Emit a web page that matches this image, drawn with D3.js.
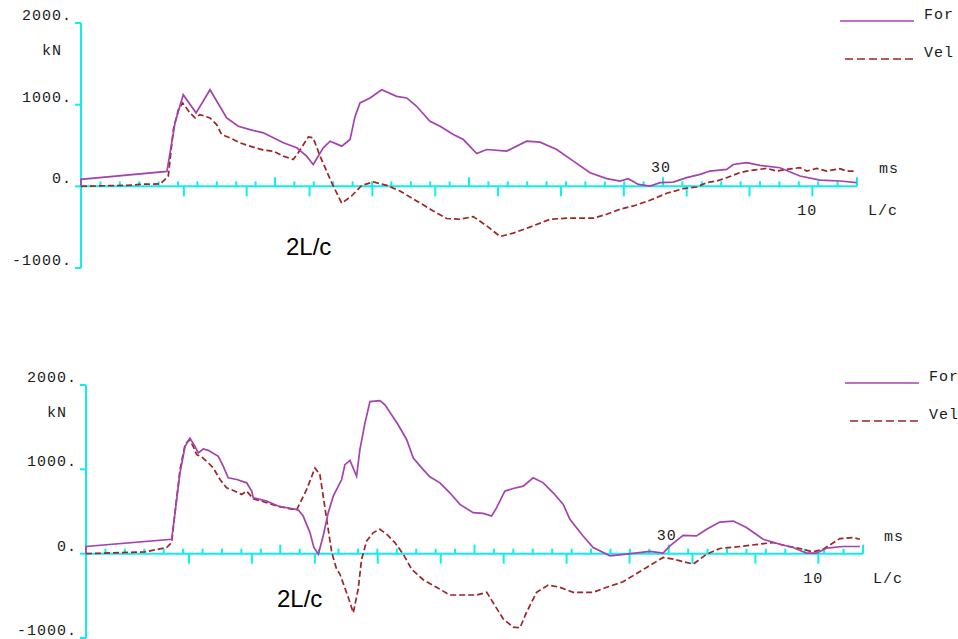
<!DOCTYPE html>
<html>
<head>
<meta charset="utf-8">
<script src="https://cdn.jsdelivr.net/npm/d3@7"></script>
<style>
  html, body { margin: 0; padding: 0; background: #fff; }
  svg { display: block; }
  .lab { font-family: "Liberation Mono", "DejaVu Sans Mono", monospace; font-size: 15px; letter-spacing: 1px; fill: #1a1a1a; }
  .ann { font-family: "Liberation Sans", Arial, sans-serif; font-size: 24px; fill: #000; }
</style>
</head>
<body>
<svg id="chart" width="958" height="639"></svg>
<script>
// ---------- DATA (time in ms, value in kN) ----------
const yTicks = [2000, 1000, 0, -1000];
const yTickLabels = ["2000.", "1000.", "0.", "-1000."];
const msDomain = [0, 40];
const lcStartMs = 5.3;      // impact time (0 L/c)
const lcEndMs = 37.7;       // 10 L/c
const lcTicks = [0, 1, 2, 3, 4, 5, 6, 7, 8, 9, 10];
const legendNames = ["For", "Vel"];

const forceTop = [
  [0,0],[0,85],[4.43,183],[4.85,781],[5.27,1122],[5.93,900],[6.65,1183],[7.51,838],[8.11,735],
  [8.71,695],[9.40,655],[10.43,533],[11.12,472],[11.63,370],[11.97,268],[12.49,472],[12.84,553],
  [13.44,492],[13.87,573],[14.12,850],[14.38,1021],[14.90,1082],[15.50,1183],[16.27,1102],
  [16.79,1082],[17.30,980],[17.99,797],[18.51,735],[19.19,634],[19.71,573],[20.40,402],
  [20.91,451],[21.94,431],[22.97,553],[23.66,541],[24.52,451],[25.38,309],[26.24,167],
  [27.10,94],[27.78,65],[28.21,94],[28.73,24],[29.33,4],[29.85,45],[30.53,52],[31.22,106],
  [31.91,146],[32.42,187],[33.28,207],[33.62,268],[34.31,289],[35.0,256],[36.03,228],
  [37.06,126],[38.09,77],[39.12,65],[39.98,45]
];
const velocityTop = [
  [0,0],[2.7,15],[3.0,25],[4.1,30],[4.24,65],[4.50,126],[4.76,695],[5.02,939],[5.24,1021],
  [5.62,899],[5.88,838],[6.13,878],[6.65,838],[6.99,756],[7.25,634],[7.68,594],[8.20,533],
  [8.71,492],[9.40,443],[9.91,431],[10.43,370],[10.94,329],[11.20,411],[11.72,606],[11.97,594],
  [12.32,370],[12.92,45],[13.44,-207],[13.95,-118],[14.47,12],[15.07,53],[15.76,12],[16.44,-57],
  [17.30,-179],[18.16,-301],[18.85,-394],[19.54,-403],[20.22,-370],[20.91,-484],[21.60,-614],
  [22.28,-573],[23.31,-484],[24.18,-403],[25.04,-390],[26.41,-390],[27.10,-342],[27.78,-281],
  [28.47,-240],[29.33,-171],[30.19,-85],[31.05,-28],[31.74,-8],[32.25,45],[32.77,65],[33.28,106],
  [33.97,167],[34.31,187],[35.35,220],[35.86,187],[36.38,207],[37.06,228],[37.41,187],[37.92,220],
  [38.44,187],[39.12,216],[39.47,187],[39.98,187]
];
const forceBottom = [
  [0,0],[0,85],[4.41,171],[4.67,643],[4.84,958],[5.10,1272],[5.35,1371],[5.61,1272],[5.78,1194],
  [6.04,1241],[6.29,1225],[6.81,1154],[7.07,1036],[7.32,899],[7.76,879],[8.27,840],[8.53,741],
  [8.61,663],[9.30,623],[9.98,557],[10.67,533],[10.93,517],[11.18,446],[11.53,250],[11.73,73],
  [11.96,-6],[12.21,210],[12.47,486],[12.73,682],[13.16,879],[13.33,1056],[13.59,1107],[13.93,918],
  [14.10,1233],[14.36,1548],[14.62,1803],[15.13,1815],[15.39,1764],[16.07,1528],[16.51,1351],
  [16.85,1135],[17.36,997],[17.70,911],[18.22,840],[18.73,722],[19.25,584],[19.93,486],[20.45,478],
  [20.88,446],[21.14,545],[21.56,741],[21.99,773],[22.51,800],[23.02,899],[23.54,840],[24.05,722],
  [24.57,584],[24.91,407],[25.59,210],[26.11,73],[26.97,-26],[27.83,-6],[29.03,26],[29.71,6],
  [30.06,92],[30.74,218],[31.43,210],[31.95,289],[32.63,375],[33.32,387],[34.00,309],[34.86,171],
  [35.72,112],[36.40,73],[37.09,6],[37.61,6],[38.12,65],[38.98,85],[39.84,85]
];
const velocityBottom = [
  [0,0],[3.0,20],[4.15,73],[4.41,132],[4.58,486],[4.84,997],[5.10,1292],[5.32,1351],[5.52,1272],
  [5.70,1174],[5.95,1147],[6.21,1095],[6.55,1017],[6.90,879],[7.24,781],[7.67,741],[8.01,702],
  [8.27,741],[8.61,651],[9.98,557],[10.84,517],[11.36,761],[11.79,1017],[12.04,938],[12.21,682],
  [12.39,407],[12.65,14],[12.90,-183],[13.07,-242],[13.50,-517],[13.76,-702],[14.01,-419],
  [14.19,-65],[14.45,151],[14.79,250],[15.13,289],[15.48,230],[15.90,132],[16.33,-6],[16.76,-183],
  [17.36,-309],[18.05,-399],[18.73,-490],[20.11,-490],[20.63,-458],[21.05,-616],[21.48,-773],
  [21.99,-871],[22.34,-880],[22.68,-694],[23.20,-458],[23.79,-372],[24.40,-399],[25.08,-458],
  [26.11,-458],[26.80,-399],[27.65,-333],[28.86,-163],[29.71,-45],[30.23,-65],[31.26,-124],
  [31.95,-6],[32.63,61],[33.66,85],[35.37,132],[36.06,92],[36.75,61],[37.43,21],[37.95,53],
  [38.81,179],[39.49,191],[39.84,171]
];

// ---------- LAYOUT ----------
const panels = [
  { x0: 81, x1: 857, yTop: 23, yBot: 268, force: forceTop, vel: velocityTop, annX: 205, annY: 69 },
  { x0: 86, x1: 863, yTop: 385, yBot: 638, force: forceBottom, vel: velocityBottom, annX: 191, annY: 53 }
];
const AXIS = "#10eeee", FORCE = "#a343ad", VEL = "#9c2525";

const svg = d3.select("#chart");

panels.forEach(p => {
  const g = svg.append("g");
  const x = d3.scaleLinear().domain(msDomain).range([p.x0, p.x1]);
  const y = d3.scaleLinear().domain([-1000, 2000]).range([p.yBot, p.yTop]);
  const lc = d3.scaleLinear().domain([0, 10]).range([x(lcStartMs), x(lcEndMs)]);
  const y0 = y(0);

  // y axis
  g.append("line").attr("x1", p.x0).attr("x2", p.x0).attr("y1", p.yTop).attr("y2", p.yBot)
    .attr("stroke", AXIS).attr("stroke-width", 2);
  g.selectAll(".yt").data(yTicks).join("line")
    .attr("x1", p.x0 - 6).attr("x2", p.x0).attr("y1", d => y(d)).attr("y2", d => y(d))
    .attr("stroke", AXIS).attr("stroke-width", 2);
  g.selectAll(".yl").data(yTicks).join("text").attr("class", "lab")
    .attr("x", p.x0 - 9).attr("y", d => y(d) - 3).attr("text-anchor", "end")
    .text((d, i) => yTickLabels[i]);
  g.append("text").attr("class", "lab").attr("x", p.x0 - 39).attr("y", p.yTop + 32).text("kN");

  // x axis (zero line)
  g.append("line").attr("x1", p.x0).attr("x2", p.x1).attr("y1", y0).attr("y2", y0)
    .attr("stroke", AXIS).attr("stroke-width", 2);
  const msTicks = d3.range(1, 41);
  g.selectAll(".mt").data(msTicks).join("line")
    .attr("x1", d => x(d)).attr("x2", d => x(d))
    .attr("y1", y0).attr("y2", d => y0 - (d % 10 === 0 ? 9 : 5))
    .attr("stroke", AXIS).attr("stroke-width", 2);
  g.selectAll(".lt").data(lcTicks).join("line")
    .attr("x1", d => lc(d)).attr("x2", d => lc(d))
    .attr("y1", y0).attr("y2", y0 + 10)
    .attr("stroke", AXIS).attr("stroke-width", 2);

  g.append("text").attr("class", "lab").attr("x", x(30) - 2).attr("y", y0 - 14)
    .attr("text-anchor", "middle").text("30");
  g.append("text").attr("class", "lab").attr("x", p.x0 + 798).attr("y", y0 - 13).text("ms");
  g.append("text").attr("class", "lab").attr("x", lc(10) - 5).attr("y", y0 + 29)
    .attr("text-anchor", "middle").text("10");
  g.append("text").attr("class", "lab").attr("x", p.x0 + 787).attr("y", y0 + 29).text("L/c");

  g.append("text").attr("class", "ann").attr("x", p.x0 + p.annX).attr("y", y0 + p.annY).text("2L/c");

  // curves
  const line = d3.line().x(d => x(d[0])).y(d => y(d[1]));
  g.append("path").datum(p.vel).attr("d", line).attr("fill", "none")
    .attr("stroke", VEL).attr("stroke-width", 1.7).attr("stroke-dasharray", "6,3");
  g.append("path").datum(p.force).attr("d", line).attr("fill", "none")
    .attr("stroke", FORCE).attr("stroke-width", 1.7);

  // legend
  g.append("line").attr("x1", p.x0 + 759).attr("x2", p.x0 + 833)
    .attr("y1", p.yTop - 2).attr("y2", p.yTop - 2).attr("stroke", FORCE).attr("stroke-width", 1.7);
  g.append("text").attr("class", "lab").attr("x", p.x0 + 843).attr("y", p.yTop - 4).text(legendNames[0]);
  g.append("line").attr("x1", p.x0 + 764).attr("x2", p.x0 + 833)
    .attr("y1", p.yTop + 36).attr("y2", p.yTop + 36).attr("stroke", VEL).attr("stroke-width", 1.7)
    .attr("stroke-dasharray", "8,4");
  g.append("text").attr("class", "lab").attr("x", p.x0 + 843).attr("y", p.yTop + 34).text(legendNames[1]);
});
</script>
</body>
</html>
